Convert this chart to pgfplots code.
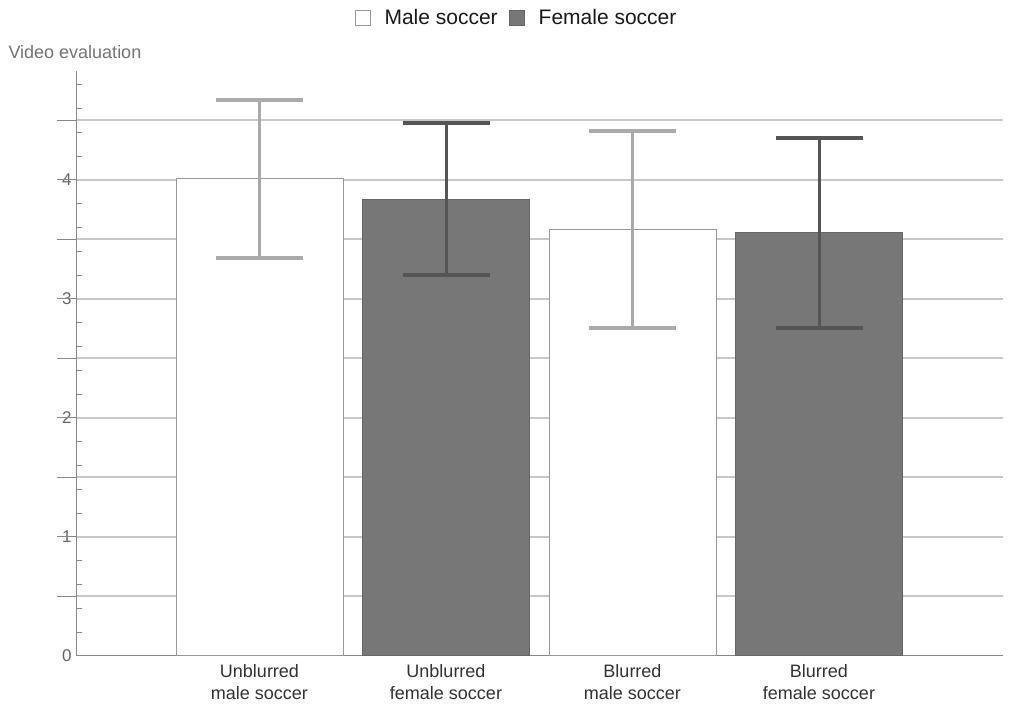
\documentclass[border=0pt]{standalone}
\usepackage{fontspec}
\setmainfont{Liberation Sans}
\usepackage{pgfplots}
\pgfplotsset{compat=1.18}
\usepackage{pgfplotstable}
\usetikzlibrary{calc}
\definecolor{gridc}{HTML}{C8C8C8}
\definecolor{axisc}{HTML}{888888}
\definecolor{femfill}{HTML}{777777}
\definecolor{femerr}{HTML}{555555}
\definecolor{maleerr}{HTML}{AAAAAA}
\definecolor{maleedge}{HTML}{999999}
\definecolor{femedge}{HTML}{666666}

\pgfplotstableread{
x y ep em
0 4.011 0.660 0.664
2 3.580 0.832 0.826
}\maletab
\pgfplotstableread{
x y ep em
1 3.838 0.641 0.639
3 3.555 0.800 0.801
}\femtab

\begin{document}
\begin{tikzpicture}
\begin{axis}[
  scale only axis, width=926pt, height=585pt,
  xmin=-0.9786, xmax=3.9866, ymin=0, ymax=4.916,
  axis lines=left, axis line style={-, axisc, line width=1pt},
  ybar, bar width=167pt,
  xtick={0,1,2,3},
  xticklabels={Unblurred\\male soccer, Unblurred\\female soccer, Blurred\\male soccer, Blurred\\female soccer},
  xticklabel style={align=center, font=\fontsize{18}{22}\selectfont, text=black!80, yshift=-5pt},
  x tick style={draw=none},
  extra x ticks={-0.9786,-0.4477,3.445},
  extra x tick labels={},
  extra x tick style={tick align=outside, major tick length=11pt, major tick style={draw=axisc, line width=1pt}},
  ytick={0,1,2,3,4},
  minor ytick={0.2,0.4,...,4.8},
  tick align=inside,
  y tick style={axisc, line width=1pt},
  major tick length=7pt, minor tick length=5pt,
  yticklabel style={font=\fontsize{17}{20}\selectfont, text=black!60, xshift=-2pt},
  /pgf/number format/assume math mode=true,
  extra y ticks={0.5,1,...,4.5},
  extra y tick labels={},
  extra y tick style={grid=major, tick align=outside, major tick length=20pt, major tick style={draw=gridc, line width=2pt}},
  grid style={gridc, line width=2pt},
  clip=false,
  legend style={draw=none, fill=none, at={(axis description cs:0.4746,1.0906)}, anchor=center,
    font=\fontsize{21}{25}\selectfont, text=black!90, legend columns=2,
    /tikz/every odd column/.append style={column sep=12pt},
    /tikz/every even column/.append style={column sep=9pt}},
  legend cell align=left,
]
\addplot[fill=white, draw=maleedge, line width=1pt, bar shift=0pt,
  legend image code/.code={\draw[fill=white, draw=maleedge, line width=1pt] (0pt,-7.5pt) rectangle (15pt,7.5pt);},
  error bars/.cd, y dir=both, y explicit,
  error bar style={line width=3pt, maleerr},
  error mark options={rotate=90, line width=4pt, maleerr, mark size=43.5pt}]
  table[x=x, y=y, y error plus=ep, y error minus=em] {\maletab};
\addlegendentry{Male soccer}
\addplot[fill=femfill, draw=femedge, line width=1pt, bar shift=0pt,
  legend image code/.code={\draw[fill=femfill, draw=femedge, line width=1pt] (0pt,-7.5pt) rectangle (15pt,7.5pt);},
  error bars/.cd, y dir=both, y explicit,
  error bar style={line width=3pt, femerr},
  error mark options={rotate=90, line width=4pt, femerr, mark size=43.5pt}]
  table[x=x, y=y, y error plus=ep, y error minus=em] {\femtab};
\addlegendentry{Female soccer}
\coordinate (O) at (rel axis cs:0,0);
\node[anchor=west, font=\fontsize{18}{22}\selectfont, text=black!55] at (rel axis cs:0,1) [xshift=-72pt, yshift=19pt] {Video evaluation};
\end{axis}
\pgfresetboundingbox
\path[use as bounding box] ($(O)+(-77pt,-50pt)$) rectangle ($(O)+(936pt,656pt)$);
\end{tikzpicture}
\end{document}
